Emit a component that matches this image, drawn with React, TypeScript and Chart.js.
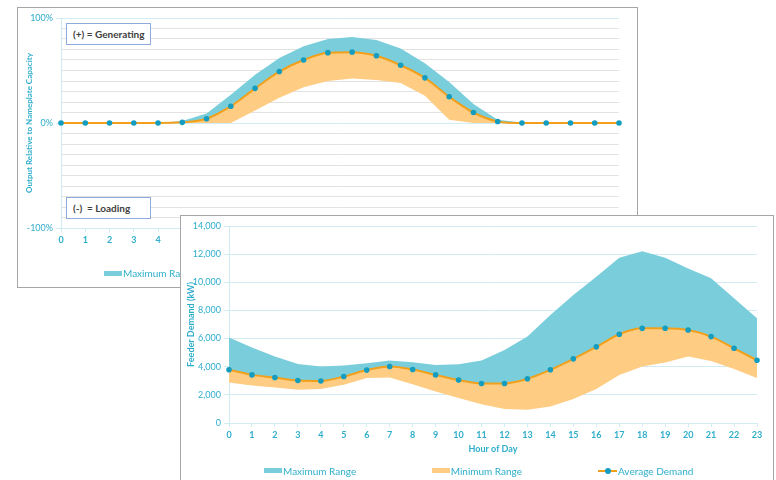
import React, { useEffect, useRef } from 'react';
import { Chart, registerables } from 'chart.js';

Chart.register(...registerables);

// ---------- data ----------
const hours = ['0','1','2','3','4','5','6','7','8','9','10','11','12','13','14','15','16','17','18','19','20','21','22','23'];

// Back panel: output relative to nameplate capacity (%)
const backAverage = [0, 0, 0, 0, 0, 0.6, 4, 16, 33, 49, 60, 67, 67.5, 64, 55, 43, 25, 10, 1.5, 0, 0, 0, 0, 0];
const backMax = [0, 0, 0, 0, 0, 2, 9, 27, 46, 62, 73, 80, 82, 79, 71, 57, 39, 18, 3, 0.5, 0, 0, 0, 0];
const backMin = [0, 0, 0, 0, 0, 0, 0, 0, 12, 24, 34, 40, 42.5, 41, 38, 26, 3, 0, 0, 0, 0, 0, 0, 0];

// Front panel: feeder demand (kW)
const frontAverage = [3780, 3420, 3230, 3020, 2990, 3300, 3760, 4010, 3800, 3420, 3050, 2810, 2810, 3140, 3780, 4560, 5410, 6310, 6730, 6730, 6610, 6140, 5310, 4460];
const frontMax = [6070, 5360, 4720, 4200, 4010, 4080, 4250, 4440, 4320, 4130, 4180, 4440, 5190, 6140, 7680, 9090, 10390, 11740, 12210, 11740, 10980, 10280, 8860, 7440];
const frontMin = [2880, 2660, 2520, 2360, 2410, 2710, 3190, 3230, 2760, 2240, 1770, 1330, 990, 940, 1180, 1700, 2410, 3420, 4010, 4300, 4720, 4410, 3830, 3190];

const legendLabels = ['Maximum Range', 'Minimum Range', 'Average Demand'];
const backLegendLabels = ['Maximum Range', 'Minimum Range', 'Average Output'];

// ---------- styles ----------
const FONT = 'Lato, "Open Sans", "DejaVu Sans", sans-serif';
const TXT = '#2FAECB';
const TEAL_FILL = '#7ACEDB';
const ORANGE_FILL = '#FECC82';
const AVG_LINE = '#F2A01C';
const POINT = '#149DBF';
const GRID_BLUE = '#D2ECF3';
const GRID_GRAY = '#E2E2E2';

Chart.defaults.font.family = FONT;

function lineDatasets(avgLabel: string, avg: number[], max: number[], min: number[]) {
  return [
    {
      label: avgLabel,
      data: avg,
      borderColor: AVG_LINE,
      backgroundColor: AVG_LINE,
      borderWidth: 2,
      pointRadius: 2.8,
      pointBackgroundColor: POINT,
      pointBorderWidth: 0,
      cubicInterpolationMode: 'monotone',
      fill: false,
      clip: 6,
    },
    {
      label: 'Maximum Range',
      data: max,
      borderColor: 'transparent',
      borderWidth: 0,
      pointRadius: 0,
      backgroundColor: TEAL_FILL,
      fill: '-1',
      tension: 0,
    },
    {
      label: 'Minimum Range',
      data: min,
      borderColor: 'transparent',
      borderWidth: 0,
      pointRadius: 0,
      backgroundColor: ORANGE_FILL,
      fill: '-2',
      tension: 0,
    },
  ];
}

function useChart(ref: React.RefObject<HTMLCanvasElement | null>, makeConfig: () => any) {
  useEffect(() => {
    if (!ref.current) return;
    const chart = new Chart(ref.current, makeConfig());
    return () => chart.destroy();
  }, []);
}

const backConfig = () => ({
  type: 'line',
  data: { labels: hours, datasets: lineDatasets('Average Output', backAverage, backMax, backMin) },
  options: {
    responsive: false,
    animation: false,
    layout: { padding: { left: 0, right: 18, top: 10, bottom: 24 } },
    plugins: { legend: { display: false }, tooltip: { enabled: false } },
    scales: {
      x: {
        offset: false,
        grid: { drawOnChartArea: false, tickLength: 4, color: GRID_BLUE },
        border: { color: GRID_BLUE },
        ticks: { color: TXT, font: { size: 9, weight: 'bold' }, padding: 3, maxRotation: 0, autoSkip: false },
        title: { display: true, text: 'Hour of Day', color: TXT, font: { size: 9, weight: 'bold' }, padding: { top: 4, bottom: 4 } },
        afterFit: (s: any) => { s.height = 35; },
      },
      y: {
        min: -100,
        max: 100,
        ticks: {
          stepSize: 10,
          autoSkip: false,
          color: TXT,
          font: { size: 9 },
          padding: 3,
          callback: (v: any) => (Number(v) % 100 === 0 ? `${v}%` : ''),
        },
        grid: {
          tickLength: 5,
          color: (c: any) => (c.tick && Math.abs(c.tick.value) % 100 === 0 ? GRID_BLUE : GRID_GRAY),
          tickColor: (c: any) => (c.tick && Math.abs(c.tick.value) % 100 === 0 ? GRID_BLUE : 'transparent'),
        },
        border: { color: GRID_BLUE },
        title: { display: true, text: 'Output Relative to Nameplate Capacity', color: TXT, font: { size: 8, weight: 'bold' }, padding: { top: 7, bottom: 0 } },
        afterFit: (s: any) => { s.width = 43; },
      },
    },
  },
});

const frontConfig = () => ({
  type: 'line',
  data: { labels: hours, datasets: lineDatasets('Average Demand', frontAverage, frontMax, frontMin) },
  options: {
    responsive: false,
    animation: false,
    layout: { padding: { left: 0, right: 16, top: 10, bottom: 23 } },
    plugins: { legend: { display: false }, tooltip: { enabled: false } },
    scales: {
      x: {
        offset: false,
        grid: { drawOnChartArea: false, tickLength: 4, color: GRID_BLUE },
        border: { color: GRID_BLUE },
        ticks: { color: TXT, font: { size: 9, weight: 'bold' }, padding: 3, maxRotation: 0, autoSkip: false },
        title: { display: true, text: 'Hour of Day', color: TXT, font: { size: 9, weight: 'bold' }, padding: { top: 4, bottom: 4 } },
        afterFit: (s: any) => { s.height = 35; },
      },
      y: {
        min: 0,
        max: 14000,
        ticks: {
          stepSize: 2000,
          autoSkip: false,
          color: TXT,
          font: { size: 9 },
          padding: 3,
          callback: (v: any) => Number(v).toLocaleString('en-US'),
        },
        grid: { tickLength: 5, color: GRID_BLUE },
        border: { color: GRID_BLUE },
        title: { display: true, text: 'Feeder Demand (kW)', color: TXT, font: { size: 9, weight: 'bold' }, padding: { top: 5, bottom: 0 } },
        afterFit: (s: any) => { s.width = 48; },
      },
    },
  },
});

function Swatch({ kind }: { kind: number }) {
  if (kind === 2) {
    return (
      <div style={{ position: 'relative', width: 19, height: 7, flex: '0 0 auto' }}>
        <div style={{ position: 'absolute', left: 0, top: 2.5, width: 19, height: 2, background: AVG_LINE }} />
        <div style={{ position: 'absolute', left: 6.5, top: 0.5, width: 6, height: 6, borderRadius: 3, background: POINT }} />
      </div>
    );
  }
  return <div style={{ width: 18, height: 5, background: kind === 0 ? TEAL_FILL : ORANGE_FILL, flex: '0 0 auto' }} />;
}

function LegendItem({ kind, label, left, centerY }: { kind: number; label: string; left: number; centerY: number }) {
  return (
    <div
      style={{
        position: 'absolute',
        left,
        top: centerY - 7,
        height: 14,
        display: 'flex',
        alignItems: 'center',
        whiteSpace: 'nowrap',
      }}
    >
      <Swatch kind={kind} />
      <span style={{ marginLeft: 1, fontSize: 10, color: TXT, fontFamily: FONT }}>{label}</span>
    </div>
  );
}

const boxStyle: React.CSSProperties = {
  position: 'absolute',
  left: 48,
  width: 85,
  height: 22,
  boxSizing: 'border-box',
  border: '1px solid #8FAADC',
  background: '#fff',
  fontFamily: FONT,
  fontSize: 10,
  fontWeight: 'bold',
  color: '#404040',
  paddingLeft: 6,
  lineHeight: '20px',
  whiteSpace: 'pre',
};

export default function App() {
  const backRef = useRef<HTMLCanvasElement | null>(null);
  const frontRef = useRef<HTMLCanvasElement | null>(null);
  useChart(backRef, backConfig);
  useChart(frontRef, frontConfig);

  const frontLegendX = [83, 250.7, 417];
  const backLegendX = [86, 253.7, 420];

  return (
    <div style={{ position: 'fixed', left: 0, top: 0, width: 776, height: 480, overflow: 'hidden', background: '#fff' }}>
      <div
        style={{
          position: 'absolute',
          left: 17,
          top: 7,
          width: 619,
          height: 279,
          border: '1px solid #A6A6A6',
          background: '#fff',
        }}
      >
        <canvas ref={backRef} width={619} height={279} style={{ display: 'block' }} />
        <div style={{ ...boxStyle, top: 15 }}>(+) = Generating</div>
        <div style={{ ...boxStyle, top: 189 }}>(-)  = Loading</div>
        {backLegendLabels.map((l, i) => (
          <LegendItem key={l} kind={i} label={l} left={backLegendX[i]} centerY={265} />
        ))}
      </div>
      <div
        style={{
          position: 'absolute',
          left: 180,
          top: 215,
          width: 592,
          height: 280,
          border: '1px solid #A6A6A6',
          background: '#fff',
        }}
      >
        <canvas ref={frontRef} width={592} height={265} style={{ display: 'block' }} />
        {legendLabels.map((l, i) => (
          <LegendItem key={l} kind={i} label={l} left={frontLegendX[i]} centerY={254.7} />
        ))}
      </div>
    </div>
  );
}
